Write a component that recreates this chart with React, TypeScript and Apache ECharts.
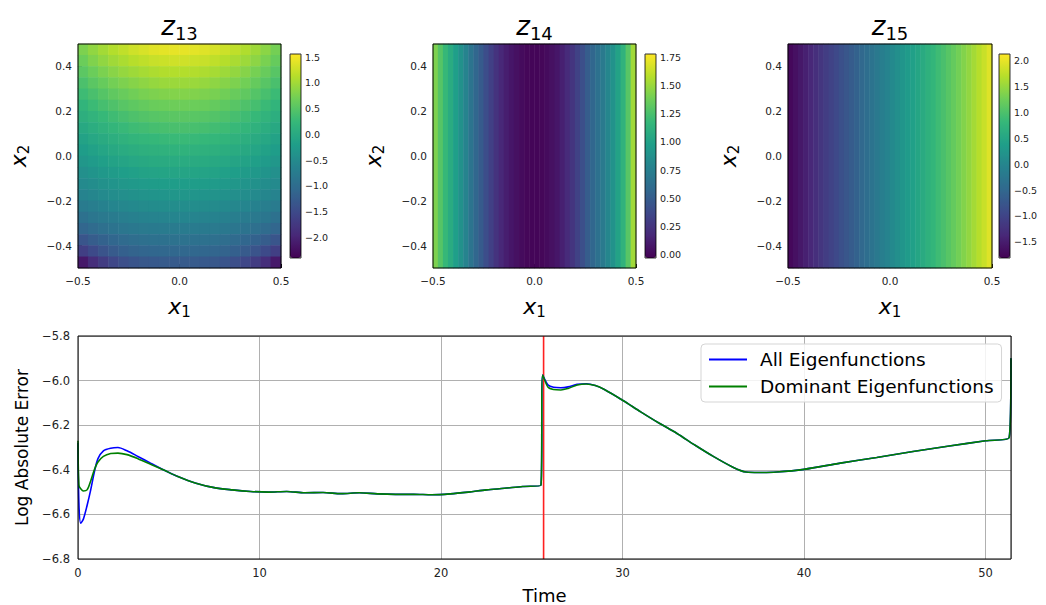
import React, { useEffect, useRef } from 'react';
import * as echarts from 'echarts';

const FONT = 'DejaVu Sans';
const viridis = ['#440154', '#482878', '#3e4989', '#31688e', '#26828e', '#1f9e89', '#35b779', '#6ece58', '#b5de2b', '#fde725'];

// ---------- z13 : 20 x 20 cells (rows listed from top x2=0.475 to bottom x2=-0.475; columns x1=-0.475..0.475)
const z13X1 = ['-0.475', '-0.425', '-0.375', '-0.325', '-0.275', '-0.225', '-0.175', '-0.125', '-0.075', '-0.025',
  '0.025', '0.075', '0.125', '0.175', '0.225', '0.275', '0.325', '0.375', '0.425', '0.475'];
const z13X2 = ['-0.475', '-0.425', '-0.375', '-0.325', '-0.275', '-0.225', '-0.175', '-0.125', '-0.075', '-0.025',
  '0.025', '0.075', '0.125', '0.175', '0.225', '0.275', '0.325', '0.375', '0.425', '0.475'];
const z13Rows = [
  [0.77, 0.90, 1.01, 1.11, 1.19, 1.27, 1.33, 1.38, 1.41, 1.42, 1.42, 1.40, 1.37, 1.32, 1.26, 1.18, 1.09, 0.98, 0.86, 0.72],
  [0.66, 0.79, 0.90, 0.99, 1.06, 1.13, 1.18, 1.23, 1.25, 1.27, 1.27, 1.25, 1.23, 1.18, 1.12, 1.05, 0.97, 0.87, 0.75, 0.62],
  [0.54, 0.66, 0.76, 0.85, 0.92, 0.98, 1.03, 1.07, 1.10, 1.11, 1.11, 1.10, 1.07, 1.03, 0.97, 0.91, 0.83, 0.73, 0.63, 0.51],
  [0.42, 0.53, 0.62, 0.71, 0.77, 0.83, 0.88, 0.92, 0.95, 0.96, 0.96, 0.95, 0.92, 0.88, 0.83, 0.77, 0.70, 0.61, 0.51, 0.40],
  [0.31, 0.40, 0.49, 0.57, 0.63, 0.69, 0.74, 0.77, 0.80, 0.81, 0.81, 0.80, 0.77, 0.74, 0.69, 0.63, 0.57, 0.48, 0.39, 0.29],
  [0.19, 0.29, 0.37, 0.44, 0.51, 0.56, 0.60, 0.64, 0.66, 0.67, 0.67, 0.66, 0.64, 0.60, 0.56, 0.51, 0.44, 0.37, 0.28, 0.18],
  [0.09, 0.17, 0.25, 0.32, 0.38, 0.43, 0.47, 0.50, 0.52, 0.53, 0.53, 0.52, 0.50, 0.47, 0.43, 0.38, 0.32, 0.25, 0.17, 0.08],
  [-0.02, 0.06, 0.14, 0.20, 0.26, 0.31, 0.34, 0.37, 0.39, 0.40, 0.40, 0.39, 0.37, 0.34, 0.31, 0.26, 0.20, 0.14, 0.06, -0.02],
  [-0.13, -0.05, 0.02, 0.08, 0.14, 0.18, 0.22, 0.24, 0.26, 0.27, 0.27, 0.26, 0.24, 0.22, 0.18, 0.14, 0.08, 0.02, -0.05, -0.13],
  [-0.22, -0.15, -0.08, -0.02, 0.03, 0.07, 0.10, 0.12, 0.14, 0.15, 0.15, 0.14, 0.12, 0.10, 0.07, 0.03, -0.02, -0.08, -0.15, -0.22],
  [-0.31, -0.25, -0.18, -0.13, -0.09, -0.05, -0.02, 0.01, 0.02, 0.03, 0.03, 0.02, 0.01, -0.02, -0.05, -0.09, -0.13, -0.18, -0.25, -0.31],
  [-0.42, -0.35, -0.29, -0.24, -0.20, -0.16, -0.13, -0.11, -0.10, -0.09, -0.09, -0.10, -0.11, -0.13, -0.16, -0.20, -0.24, -0.29, -0.35, -0.42],
  [-0.52, -0.46, -0.40, -0.35, -0.31, -0.28, -0.25, -0.23, -0.22, -0.21, -0.21, -0.22, -0.23, -0.25, -0.28, -0.31, -0.35, -0.40, -0.46, -0.52],
  [-0.63, -0.57, -0.52, -0.47, -0.43, -0.40, -0.37, -0.35, -0.34, -0.33, -0.33, -0.34, -0.35, -0.37, -0.40, -0.43, -0.47, -0.52, -0.57, -0.63],
  [-0.76, -0.70, -0.65, -0.60, -0.56, -0.53, -0.50, -0.48, -0.47, -0.46, -0.46, -0.47, -0.48, -0.50, -0.53, -0.56, -0.60, -0.65, -0.70, -0.76],
  [-0.92, -0.85, -0.80, -0.75, -0.71, -0.67, -0.64, -0.62, -0.61, -0.60, -0.60, -0.61, -0.62, -0.64, -0.67, -0.71, -0.75, -0.80, -0.85, -0.92],
  [-1.10, -1.02, -0.95, -0.89, -0.84, -0.81, -0.78, -0.77, -0.76, -0.75, -0.75, -0.76, -0.77, -0.78, -0.81, -0.84, -0.89, -0.95, -1.02, -1.10],
  [-1.35, -1.24, -1.16, -1.09, -1.03, -0.98, -0.95, -0.93, -0.92, -0.91, -0.91, -0.92, -0.93, -0.95, -0.98, -1.03, -1.09, -1.16, -1.24, -1.35],
  [-1.66, -1.50, -1.37, -1.27, -1.19, -1.14, -1.11, -1.09, -1.08, -1.08, -1.08, -1.08, -1.09, -1.11, -1.14, -1.19, -1.27, -1.37, -1.50, -1.66],
  [-2.13, -1.88, -1.69, -1.55, -1.44, -1.36, -1.31, -1.29, -1.27, -1.27, -1.27, -1.27, -1.29, -1.31, -1.36, -1.44, -1.55, -1.69, -1.88, -2.13],
];
const z13Range = [-2.40, 1.56];
const z13Ticks = [-2, -1.5, -1, -0.5, 0, 0.5, 1, 1.5];

// ---------- z14, z15 : vary only with x1 (40 columns, centres -0.4875 .. 0.4875)
const stripX1 = ['-0.4875', '-0.4625', '-0.4375', '-0.4125', '-0.3875', '-0.3625', '-0.3375', '-0.3125', '-0.2875', '-0.2625',
  '-0.2375', '-0.2125', '-0.1875', '-0.1625', '-0.1375', '-0.1125', '-0.0875', '-0.0625', '-0.0375', '-0.0125',
  '0.0125', '0.0375', '0.0625', '0.0875', '0.1125', '0.1375', '0.1625', '0.1875', '0.2125', '0.2375',
  '0.2625', '0.2875', '0.3125', '0.3375', '0.3625', '0.3875', '0.4125', '0.4375', '0.4625', '0.4875'];
const z14Values = [1.42, 1.29, 1.18, 1.08, 0.98, 0.88, 0.78, 0.67, 0.57, 0.49,
  0.40, 0.32, 0.24, 0.17, 0.12, 0.08, 0.05, 0.02, 0.00, -0.01,
  -0.01, 0.00, 0.02, 0.05, 0.08, 0.13, 0.19, 0.25, 0.33, 0.41,
  0.50, 0.57, 0.64, 0.71, 0.80, 0.89, 1.01, 1.14, 1.30, 1.52];
const z14Range = [-0.03, 1.78];
const z14Ticks = [0, 0.25, 0.5, 0.75, 1, 1.25, 1.5, 1.75];

const z15Values = [-1.73, -1.64, -1.55, -1.46, -1.37, -1.28, -1.19, -1.10, -1.01, -0.93,
  -0.84, -0.76, -0.67, -0.58, -0.49, -0.40, -0.31, -0.22, -0.13, -0.04,
  0.05, 0.14, 0.23, 0.32, 0.41, 0.50, 0.59, 0.69, 0.78, 0.88,
  0.97, 1.07, 1.17, 1.27, 1.37, 1.47, 1.58, 1.69, 1.80, 1.93];
const z15Range = [-1.81, 2.12];
const z15Ticks = [-1.5, -1, -0.5, 0, 0.5, 1, 1.5, 2];

const heatTickY = [-0.4, -0.2, 0, 0.2, 0.4];

// ---------- error over time
const time = [0, 0.05, 0.15, 0.3, 0.5, 0.7, 0.9, 1.1, 1.4, 1.8, 2.2, 2.7, 3.3, 4.0, 4.7, 5.5, 6.5, 7.5, 8.5, 9.5,
  10.5, 11.5, 12.5, 13.5, 14.5, 15.5, 16.5, 17.5, 18.5, 19.5, 20.5, 21.5, 22.5, 23.5, 24.5, 25.5,
  25.6, 25.9, 26.2, 26.6, 27.0, 27.5, 28.0, 28.5, 29.0, 30.0, 31.0, 32.0, 33.0, 34.0, 35.0, 36.0, 36.8,
  37.5, 38.5, 40.0, 42.0, 44.0, 46.0, 48.0, 50.0, 51.3, 51.4];
const allEigen = [-6.28, -6.55, -6.64, -6.62, -6.56, -6.49, -6.41, -6.35, -6.315, -6.303, -6.30, -6.315, -6.34, -6.37, -6.40, -6.43, -6.46, -6.48, -6.49, -6.497,
  -6.50, -6.497, -6.503, -6.502, -6.507, -6.503, -6.508, -6.51, -6.51, -6.512, -6.508, -6.50, -6.49, -6.483, -6.475, -6.47,
  -5.975, -6.02, -6.03, -6.032, -6.028, -6.017, -6.014, -6.022, -6.04, -6.088, -6.14, -6.19, -6.237, -6.29, -6.34, -6.385, -6.41,
  -6.412, -6.41, -6.398, -6.37, -6.345, -6.318, -6.293, -6.27, -6.256, -5.90];
const domEigen = [-6.27, -6.47, -6.485, -6.495, -6.49, -6.45, -6.40, -6.365, -6.34, -6.327, -6.325, -6.332, -6.35, -6.375, -6.40, -6.43, -6.46, -6.48, -6.49, -6.497,
  -6.50, -6.497, -6.503, -6.502, -6.507, -6.503, -6.508, -6.51, -6.51, -6.512, -6.508, -6.50, -6.49, -6.483, -6.475, -6.47,
  -5.975, -6.03, -6.04, -6.042, -6.035, -6.02, -6.015, -6.022, -6.04, -6.088, -6.14, -6.19, -6.237, -6.29, -6.34, -6.385, -6.41,
  -6.412, -6.41, -6.398, -6.37, -6.345, -6.318, -6.293, -6.27, -6.256, -5.90];
const eventTime = 25.65;
const seriesNames = ['All Eigenfunctions', 'Dominant Eigenfunctions'];
const errMin = -6.8, errMax = -5.8, tMax = 51.4;

// ---------- layout
const heatBoxes = [
  { left: 78, top: 44, width: 203, height: 224, cbLeft: 290 },
  { left: 433, top: 44, width: 203, height: 224, cbLeft: 645 },
  { left: 788, top: 44, width: 204, height: 224, cbLeft: 999 },
];
const CB_TOP = 54, CB_H = 204, CB_W = 11;
const lineBox = { left: 78, top: 336, width: 933, height: 223 };

const fmt = (d: number) => (v: number) => {
  const x = Math.abs(v) < 1e-9 ? 0 : v;
  return x.toFixed(d).replace('-', '\u2212');
};

function mathText(base: string, sub: string, x: number, y: number, size: number, rotation = 0) {
  return {
    type: 'text', x, y, rotation, z: 100,
    style: {
      text: `{b|${base}}{s|${sub}}`,
      rich: {
        b: { fontSize: size, fontStyle: 'italic', fontFamily: FONT, fill: '#000' },
        s: { fontSize: Math.round(size * 0.7), fontFamily: FONT, fill: '#000', padding: [Math.round(size * 0.55), 0, 0, 0] },
      },
      align: 'center', verticalAlign: 'middle',
    },
  };
}

export default function App() {
  const ref = useRef<HTMLDivElement>(null);
  useEffect(() => {
    if (!ref.current) return;
    const chart = echarts.init(ref.current, undefined, { renderer: 'svg' });

    const heatData13: number[][] = [];
    z13Rows.forEach((row, r) => row.forEach((v, c) => heatData13.push([c, z13Rows.length - 1 - r, v])));
    const heatData14 = z14Values.map((v, i) => [i, 0, v]);
    const heatData15 = z15Values.map((v, i) => [i, 0, v]);
    const heatSets = [
      { data: heatData13, xs: z13X1, ys: z13X2, range: z13Range, ticks: z13Ticks, dec: 1 },
      { data: heatData14, xs: stripX1, ys: [''], range: z14Range, ticks: z14Ticks, dec: 2 },
      { data: heatData15, xs: stripX1, ys: [''], range: z15Range, ticks: z15Ticks, dec: 1 },
    ];

    const grid: any[] = [];
    const xAxis: any[] = [];
    const yAxis: any[] = [];
    const series: any[] = [];
    const visualMap: any[] = [];
    const graphic: any[] = [];

    heatBoxes.forEach((b) => grid.push({ left: b.left, top: b.top, width: b.width, height: b.height, containLabel: false }));
    heatBoxes.forEach((b) => grid.push({ left: b.cbLeft, top: CB_TOP, width: CB_W, height: CB_H, containLabel: false }));
    grid.push({ left: lineBox.left, top: lineBox.top, width: lineBox.width, height: lineBox.height, containLabel: false });

    const tickLabel = { color: '#222', fontFamily: FONT };

    heatSets.forEach((h, i) => {
      xAxis.push({ type: 'category', gridIndex: i, data: h.xs, show: false });
      xAxis.push({
        type: 'value', gridIndex: i, min: -0.5, max: 0.5, interval: 0.5, position: 'bottom',
        axisLine: { show: false }, splitLine: { show: false },
        axisTick: { show: true, inside: true, length: 4, lineStyle: { color: '#000' } },
        axisLabel: { ...tickLabel, fontSize: 10.5, margin: 7, formatter: fmt(1) },
      });
      yAxis.push({ type: 'category', gridIndex: i, data: h.ys, show: false });
      yAxis.push({
        type: 'value', gridIndex: i, min: -0.5, max: 0.5, position: 'left',
        axisLine: { show: false }, splitLine: { show: false },
        axisTick: { show: true, inside: true, length: 4, lineStyle: { color: '#000' }, customValues: heatTickY },
        axisLabel: { ...tickLabel, fontSize: 10.5, margin: 6, formatter: fmt(1), customValues: heatTickY },
      });
      series.push({
        type: 'heatmap', xAxisIndex: i * 2, yAxisIndex: i * 2, data: h.data,
        itemStyle: { borderWidth: 0 }, emphasis: { disabled: true },
      });
      visualMap.push({
        type: 'continuous', seriesIndex: i, min: h.range[0], max: h.range[1],
        inRange: { color: viridis }, show: true, calculable: false, hoverLink: false,
        itemWidth: CB_W, itemHeight: CB_H, left: heatBoxes[i].cbLeft, top: CB_TOP, padding: 0, orient: 'vertical',
      });
    });
    heatSets.forEach((h, i) => {
      xAxis.push({ type: 'value', gridIndex: 3 + i, show: false, min: 0, max: 1 });
      yAxis.push({
        type: 'value', gridIndex: 3 + i, min: h.range[0], max: h.range[1], position: 'right',
        axisLine: { show: false }, splitLine: { show: false },
        axisTick: { show: true, inside: false, length: 3, lineStyle: { color: '#000' }, customValues: h.ticks },
        axisLabel: { ...tickLabel, fontSize: 9.5, margin: 4, formatter: fmt(h.dec), customValues: h.ticks },
      });
    });
    // line chart axes
    xAxis.push({
      type: 'value', gridIndex: 6, min: 0, max: tMax, interval: 10,
      axisLine: { show: false }, axisTick: { show: false },
      splitLine: { show: true, lineStyle: { color: '#b0b0b0', width: 1 } },
      axisLabel: { ...tickLabel, fontSize: 11.5, margin: 8, showMaxLabel: false, formatter: (v: number) => String(Math.round(v)) },
    });
    yAxis.push({
      type: 'value', gridIndex: 6, min: errMin, max: errMax, interval: 0.2,
      axisLine: { show: false }, axisTick: { show: false },
      splitLine: { show: true, lineStyle: { color: '#b0b0b0', width: 1 } },
      axisLabel: { ...tickLabel, fontSize: 11.5, margin: 8, formatter: fmt(1) },
    });
    series.push({
      type: 'line', name: 'event', xAxisIndex: 9, yAxisIndex: 9,
      data: [[eventTime, errMin], [eventTime, errMax]], showSymbol: false, silent: true,
      lineStyle: { color: '#ff2020', width: 1.6 }, itemStyle: { color: '#ff2020' }, z: 2,
    });
    series.push({
      type: 'line', name: seriesNames[0], xAxisIndex: 9, yAxisIndex: 9,
      data: time.map((t, i) => [t, allEigen[i]]), showSymbol: false, smooth: 0.3,
      lineStyle: { color: '#0000ff', width: 1.6 }, itemStyle: { color: '#0000ff' }, z: 3,
    });
    series.push({
      type: 'line', name: seriesNames[1], xAxisIndex: 9, yAxisIndex: 9,
      data: time.map((t, i) => [t, domEigen[i]]), showSymbol: false, smooth: 0.3,
      lineStyle: { color: '#008000', width: 1.6 }, itemStyle: { color: '#008000' }, z: 4,
    });

    // frames
    heatBoxes.forEach((b) => {
      graphic.push({ type: 'rect', z: 100, shape: { x: b.left, y: b.top, width: b.width, height: b.height }, style: { fill: 'none', stroke: '#000', lineWidth: 1 } });
      graphic.push({ type: 'rect', z: 100, shape: { x: b.cbLeft, y: CB_TOP, width: CB_W, height: CB_H }, style: { fill: 'none', stroke: '#000', lineWidth: 0.8 } });
    });
    graphic.push({ type: 'rect', z: 100, shape: { x: lineBox.left, y: lineBox.top, width: lineBox.width, height: lineBox.height }, style: { fill: 'none', stroke: '#000', lineWidth: 1 } });

    // titles and axis names
    const titles = ['13', '14', '15'];
    heatBoxes.forEach((b, i) => {
      const cx = b.left + b.width / 2;
      graphic.push(mathText('z', titles[i], cx, 26, 26));
      graphic.push(mathText('x', '1', cx, 306, 22));
      graphic.push(mathText('x', '2', b.left - 60, b.top + b.height / 2, 22, Math.PI / 2));
    });
    graphic.push({ type: 'text', z: 100, x: lineBox.left + lineBox.width / 2, y: 595, style: { text: 'Time', fontSize: 18, fontFamily: FONT, fill: '#000', align: 'center', verticalAlign: 'middle' } });
    graphic.push({ type: 'text', z: 100, x: 22, y: lineBox.top + lineBox.height / 2, rotation: Math.PI / 2, style: { text: 'Log Absolute Error', fontSize: 17, fontFamily: FONT, fill: '#000', align: 'center', verticalAlign: 'middle' } });

    chart.setOption({
      animation: false,
      textStyle: { fontFamily: FONT },
      grid, xAxis, yAxis, series, visualMap, graphic,
      legend: {
        data: seriesNames, orient: 'vertical', left: 701, top: 344,
        icon: 'rect', itemWidth: 38, itemHeight: 2, itemGap: 8,
        padding: [6, 8, 6, 8], backgroundColor: 'rgba(255,255,255,0.85)',
        borderColor: '#d5d5d5', borderWidth: 1, borderRadius: 4,
        textStyle: { fontSize: 18.5, fontFamily: FONT, color: '#000', padding: [0, 0, 0, 8] },
      },
    });
    return () => chart.dispose();
  }, []);
  return <div ref={ref} style={{ position: 'absolute', left: 0, top: 0, width: 1046, height: 605 }} />;
}
